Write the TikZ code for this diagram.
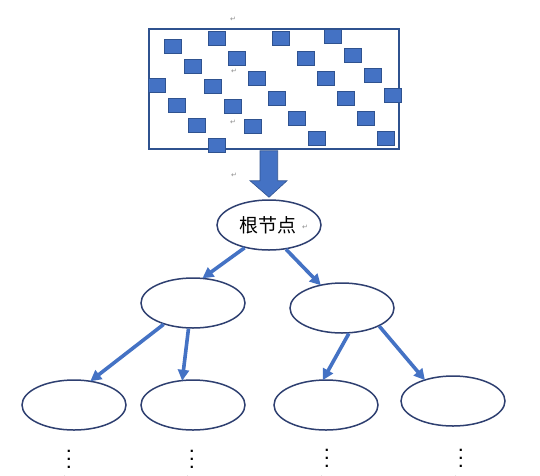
\documentclass[tikz,border=0pt]{standalone}
\usepackage{fontspec}
\newfontfamily\cjk{Noto Sans CJK SC}
\newfontfamily\dejavu{DejaVu Sans}
\usetikzlibrary{arrows.meta,shapes.geometric,calc}
\definecolor{fillblue}{HTML}{4472C4}
\definecolor{edgeblue}{HTML}{2F528F}
\definecolor{navy}{HTML}{2E3F70}
\definecolor{markgray}{HTML}{8C8C8C}
\newcommand\tripledot{\vbox{\baselineskip7.8pt\lineskiplimit0pt\hbox{.}\hbox{.}\hbox{.}}}
\tikzset{
  sq/.style={draw=edgeblue,fill=fillblue,line width=0.8pt,minimum width=17pt,minimum height=14pt,inner sep=0pt},
  oval/.style={ellipse,draw=navy,line width=1.5pt,fill=white,minimum width=104pt,minimum height=50pt,inner sep=0pt},
  link/.style={draw=fillblue,line width=3.6pt,-{Triangle[length=11pt,width=11pt]},shorten >=-1pt},
  retmark/.style={text=markgray,font=\dejavu\fontsize{7}{7}\selectfont,inner sep=0pt},
  vdot/.style={font=\dejavu\bfseries\fontsize{12}{12}\selectfont,inner sep=0pt,anchor=base},
}
\begin{document}
\begin{tikzpicture}[x=1pt,y=-1pt]
\useasboundingbox (0,0) rectangle (540,475);
% sample box
\node[draw=edgeblue,line width=1.5pt,minimum width=250pt,minimum height=120pt,inner sep=0pt] (box) at (274,89) {};
% squares
\foreach \i/\x/\y in {1/173/46,2/217/38,3/281/38,4/333/36,5/193/66,6/237/58,7/306/58,8/353/55,
  9/157/85,10/213/86,11/257/78,12/326/78,13/373/75,14/177/105,15/233/106,16/277/98,17/346/98,
  18/393/95,19/197/125,20/253/126,21/297/118,22/366/118,23/217/145,24/317/138,25/386/138}
  \node[sq] (s\i) at (\x,\y) {};
% return marks
\node[retmark] (r1) at (233,19) {↵};
\node[retmark] (r2) at (234,71) {↵};
\node[retmark] (r3) at (233,122) {↵};
\node[retmark] (r4) at (234,175) {↵};
% tree
\node[oval] (root) at (269,225) {};
\node[font=\cjk\fontsize{19}{19}\selectfont,inner sep=0pt] (roottext) at (268,225) {根节点};
\node[retmark] (r5) at (305,227) {↵};
\node[oval] (la) at (193,303) {};
\node[oval] (lb) at (342,308) {};
\node[oval] (a) at (74,405) {};
\node[oval] (b) at (193,405) {};
\node[oval] (c) at (326,405) {};
\node[oval] (d) at (453,401) {};
% fat arrow
\fill[fillblue,draw=edgeblue,line width=0.6pt]
  ($(box.south)+(-14,1)$) -- ($(box.south)+(3.7,1)$) -- ($(box.south)+(3.7,31)$) -- ($(box.south)+(13,31)$)
  -- ($(root.north)+(0,-2)$) -- ($(box.south)+(-24,31)$) -- ($(box.south)+(-14,31)$) -- cycle;
% links
\draw[link] (root.-137) -- (la.68);
\draw[link] (root.-55) -- (lb.133);
\draw[link] (la.-144) -- (a.55);
\draw[link] (la.-100) -- (b.113);
\draw[link] (lb.-75) -- (c.96);
\draw[link] (lb.-26) -- (d.143);
% continuation dots
\node[vdot] (da) at (69,468) {\tripledot};
\node[vdot] (db) at (192,468) {\tripledot};
\node[vdot] (dc) at (327,467) {\tripledot};
\node[vdot] (dd) at (461,467.5) {\tripledot};
\node[retmark] (r6) at (63,478) {↵};
\node[retmark] (r7) at (186,478) {↵};
\node[retmark] (r8) at (320,478) {↵};
\node[retmark] (r9) at (454,478) {↵};
\end{tikzpicture}
\end{document}
